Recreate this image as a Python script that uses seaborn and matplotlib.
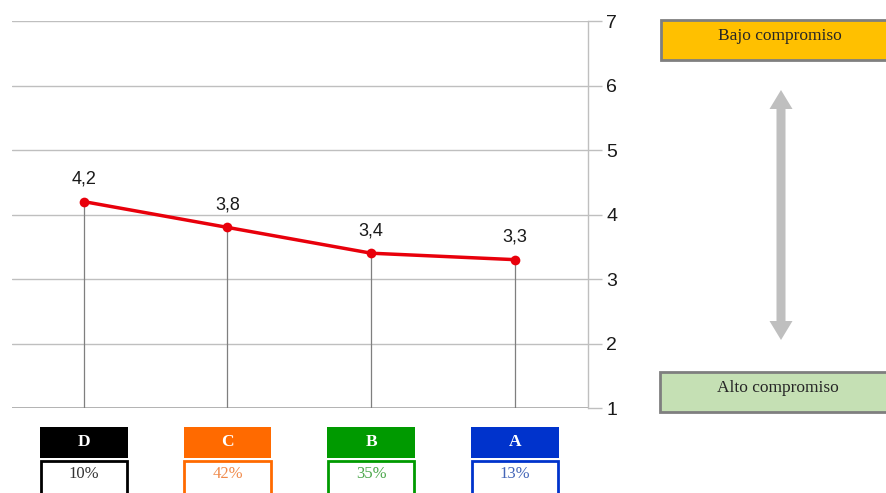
import matplotlib
matplotlib.use("Agg")
import matplotlib.pyplot as plt
from matplotlib.patches import Rectangle, FancyArrow
from matplotlib.transforms import blended_transform_factory
import numpy as np
import pandas as pd
import seaborn as sns

# Data
categories = ["D", "C", "B", "A"]
scores = [4.2, 3.8, 3.4, 3.3]
score_labels = ["4,2", "3,8", "3,4", "3,3"]
shares = ["10%", "42%", "35%", "13%"]
group_colors = ["#000000", "#FF6A00", "#009A00", "#0033CC"]
share_text_colors = ["#333333", "#F08A4B", "#4DA84D", "#4466B8"]
y_ticks = [1, 2, 3, 4, 5, 6, 7]

df = pd.DataFrame({"pos": np.arange(len(categories)), "score": scores})

sns.set_theme(style="white")
plt.rcParams["font.family"] = ["Liberation Sans", "DejaVu Sans"]

fig = plt.figure(figsize=(8.87, 4.93), dpi=100)
ax = fig.add_axes([0.0135, 0.1724, 0.6495, 0.785])

grid_c = "#BFBFBF"
for t in y_ticks[1:]:
    ax.axhline(t, color=grid_c, lw=1, zorder=0)
ax.axhline(1, color="#A6A6A6", lw=1.2, zorder=0)

# drop lines from each point to the baseline
ax.vlines(df["pos"], 1, df["score"], color="#7F7F7F", lw=0.9, zorder=1)

sns.lineplot(data=df, x="pos", y="score", ax=ax, color="#E8000B", lw=2.5,
             marker="o", markersize=7, markeredgewidth=0, zorder=3)

for x, y, lab in zip(df["pos"], df["score"], score_labels):
    ax.annotate(lab, (x, y), xytext=(0, 10), textcoords="offset points",
                ha="center", va="bottom", fontsize=13, color="#1a1a1a")

ax.set_xlim(-0.5, 3.51)
ax.set_ylim(1, 7)
ax.set_yticks(y_ticks)
ax.yaxis.tick_right()
ax.tick_params(axis="y", right=True, length=10, width=1, color=grid_c,
               labelsize=14, pad=3, labelcolor="#1a1a1a")
ax.tick_params(axis="x", bottom=False, labelbottom=False)
ax.set_xlabel("")
ax.set_ylabel("")
for s in ["top", "left", "bottom"]:
    ax.spines[s].set_visible(False)
ax.spines["right"].set_color(grid_c)
ax.spines["right"].set_linewidth(1)

# group boxes under the axis
H = 493.0
trans = blended_transform_factory(ax.transData, fig.transFigure)
bw = 0.61
serif = ["Liberation Serif", "DejaVu Serif"]
for x, cat, sh, gc, tc in zip(df["pos"], categories, shares, group_colors, share_text_colors):
    top_box = Rectangle((x - bw / 2, 1 - 458 / H), bw, 31 / H, transform=trans,
                        facecolor=gc, edgecolor="none", clip_on=False)
    fig.add_artist(top_box)
    fig.text(x, 1 - 441.5 / H, cat, transform=trans, ha="center", va="center",
             color="white", fontsize=12.5, fontweight="bold", family=serif)
    low_box = Rectangle((x - bw / 2 + 0.005, 1 - 500 / H), bw - 0.01, 39 / H,
                        transform=trans, facecolor="white", edgecolor=gc,
                        lw=2, clip_on=False)
    fig.add_artist(low_box)
    fig.text(x, 1 - 474 / H, sh, transform=trans, ha="center", va="center",
             color=tc, fontsize=12, family=serif)

W = 887.0
# scale end boxes
fig.add_artist(Rectangle((661 / W, 1 - 60 / H), 230 / W, 40 / H,
                         transform=fig.transFigure, facecolor="#FFC000",
                         edgecolor="#7F7F7F", lw=2, clip_on=False))
fig.text(780 / W, 1 - 36 / H, "Bajo compromiso", ha="center", va="center",
         fontsize=12.5, family=serif, color="#262626")
fig.add_artist(Rectangle((660 / W, 1 - 412 / H), 231 / W, 40 / H,
                         transform=fig.transFigure, facecolor="#C5E0B4",
                         edgecolor="#7F7F7F", lw=2, clip_on=False))
fig.text(778 / W, 1 - 388 / H, "Alto compromiso", ha="center", va="center",
         fontsize=12.5, family=serif, color="#262626")

# double-headed arrow between the two ends of the scale
axr = fig.add_axes([0, 0, 1, 1], facecolor="none")
axr.set_xlim(0, W)
axr.set_ylim(H, 0)
axr.axis("off")
for y0, dy in [(215, -125), (215, 125)]:
    axr.add_patch(FancyArrow(781, y0, 0, dy, width=9, head_width=23,
                             head_length=19, length_includes_head=True,
                             color="#BFBFBF", lw=0))

fig.savefig("out.png", dpi=100)
